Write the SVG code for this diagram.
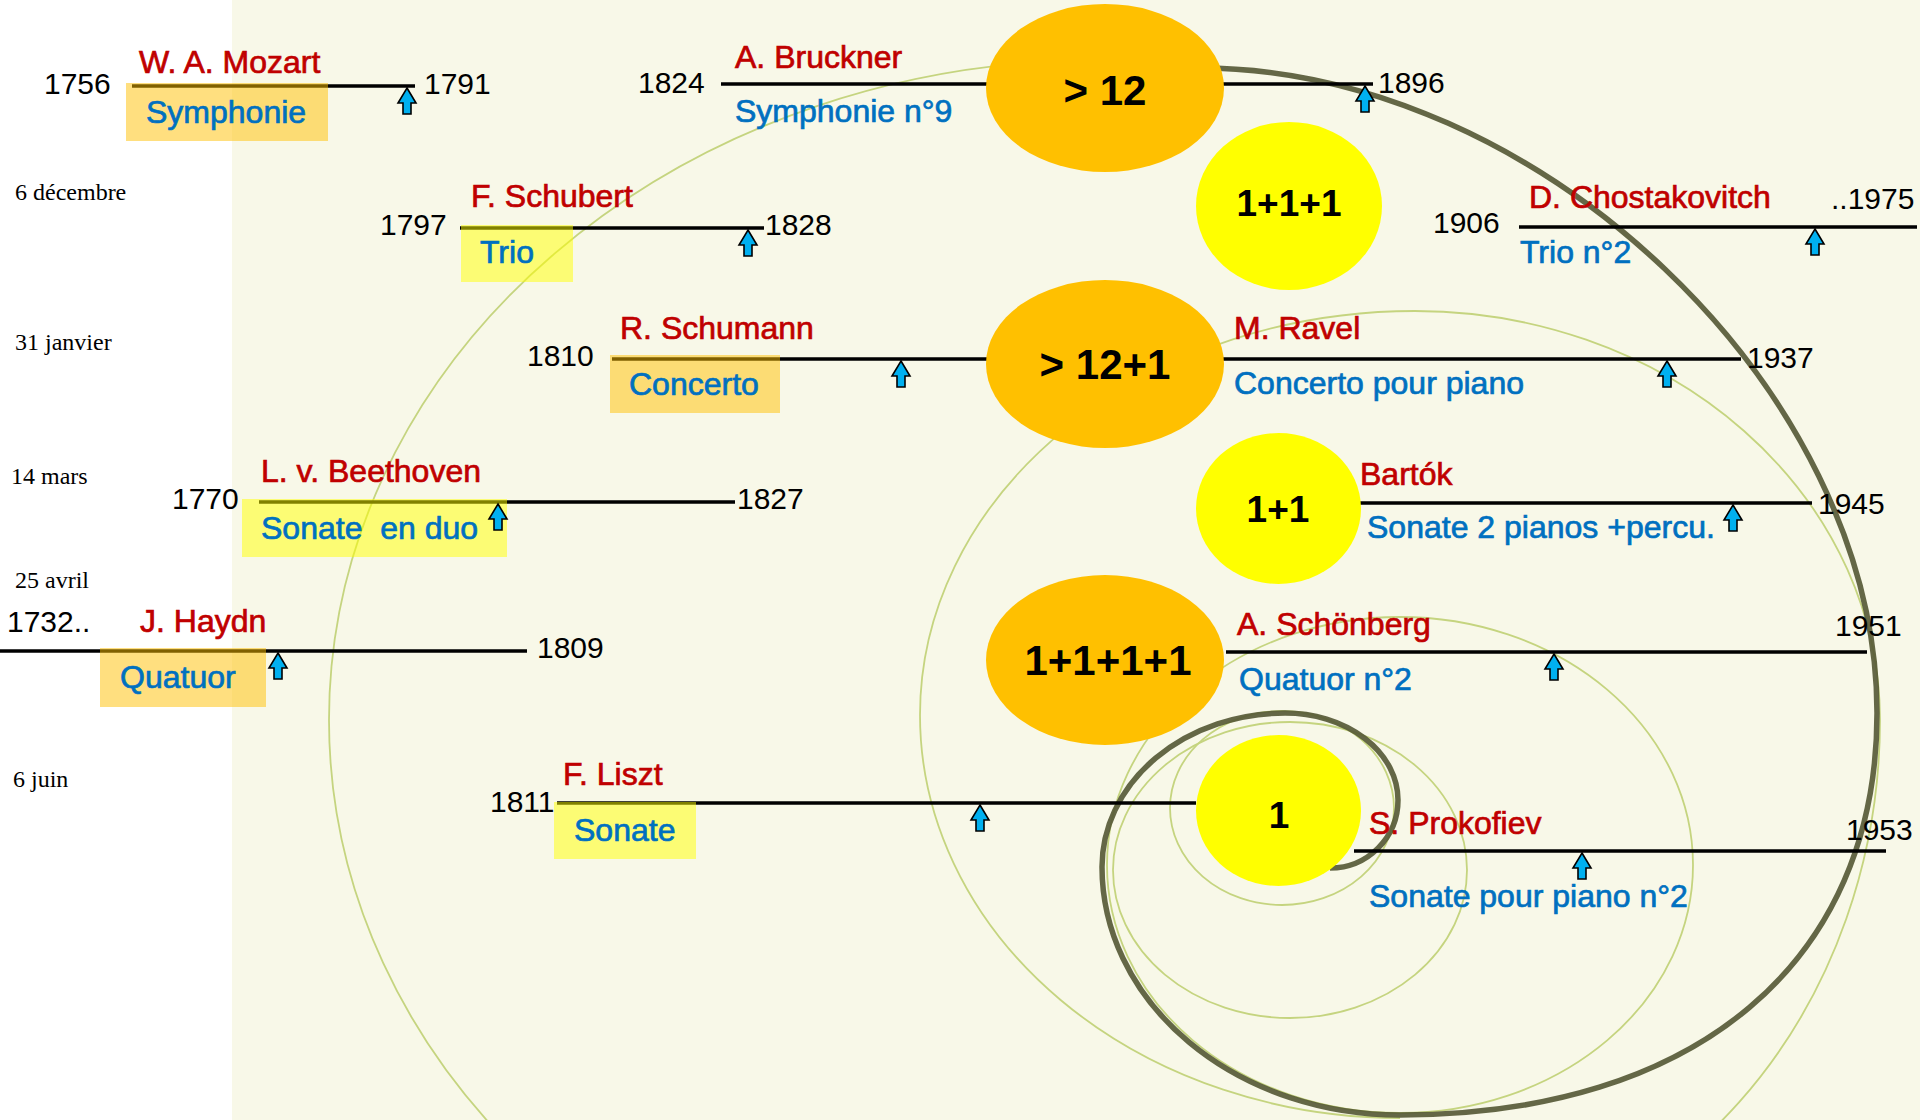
<svg xmlns="http://www.w3.org/2000/svg" width="1920" height="1120" viewBox="0 0 1920 1120">
<style>
.yr{font-family:"Liberation Sans",Arial,sans-serif;font-size:30px;fill:#000}
.nm{font-family:"Liberation Sans",Arial,sans-serif;font-size:32px;fill:#C00000;stroke:#C00000;stroke-width:0.7}
.wk{font-family:"Liberation Sans",Arial,sans-serif;font-size:32px;fill:#0070C0;stroke:#0070C0;stroke-width:0.7}
.dt{font-family:"Liberation Serif","Times New Roman",serif;font-size:24px;fill:#000}
.big{font-family:"Liberation Sans",Arial,sans-serif;font-size:42px;font-weight:bold;fill:#000;text-anchor:middle}
.sm{font-family:"Liberation Sans",Arial,sans-serif;font-size:37px;font-weight:bold;fill:#000;text-anchor:middle}
.tl{stroke:#000;stroke-width:3.5;fill:none}
.bo{fill:#FFC000;opacity:0.5}
.by{fill:#FFFF00;opacity:0.5}
.eo{fill:#FFC000}
.ey{fill:#FFFF00}
.lt{fill:none;stroke:#c5d47f;stroke-width:1.8}
.dk{fill:none;stroke:#575a37;stroke-width:5.5;opacity:0.92}
</style>
<defs>
<path id="arr" d="M0,0 L9,15 L4,15 L4,26 L-4,26 L-4,15 L-9,15 Z" fill="#00B0F0" stroke="#000" stroke-width="1.6" stroke-linejoin="miter"/>
</defs>
<rect x="0" y="0" width="1920" height="1120" fill="#ffffff"/>
<rect x="232" y="0" width="1688" height="1120" fill="#f8f8e8"/>

<g id="dates">
<text class="dt" x="15" y="200">6 décembre</text>
<text class="dt" x="15" y="350">31 janvier</text>
<text class="dt" x="11" y="484">14 mars</text>
<text class="dt" x="15" y="588">25 avril</text>
<text class="dt" x="13" y="787">6 juin</text>
</g>

<g id="connectors">
<path class="lt" d="M1100,60 A771,660 0 0 0 329,720 A771,660 0 0 0 1100,1380"/>
<path class="lt" d="M1400,1118 A480,403 0 0 1 920,715 A495,404 0 0 1 1415,311 A465,409 0 0 1 1880,720 A480,540 0 0 1 1400,1260"/>
<ellipse class="lt" cx="1400" cy="865" rx="293" ry="248"/>
<ellipse class="lt" cx="1290" cy="870" rx="177" ry="148"/>
<ellipse class="lt" cx="1282" cy="808" rx="112" ry="97"/>
<path class="dk" d="M1330,868 A68,68 0 0 0 1398,800 A113,87 0 0 0 1285,713 A183,154 0 0 0 1102,867 A298,248 0 0 0 1400,1115 C1696,1115 1877,962 1877,713 C1877,390 1538,68 1200,68"/>
</g>

<g id="mozart">
<line class="tl" x1="132" y1="86" x2="415" y2="86"/>
<rect class="bo" x="126" y="83" width="202" height="58"/>
<use href="#arr" x="407" y="88"/>
<text class="yr" x="44" y="94">1756</text>
<text class="nm" x="139" y="73">W. A. Mozart</text>
<text class="wk" x="146" y="123">Symphonie</text>
<text class="yr" x="424" y="94">1791</text>
</g>

<g id="bruckner">
<line class="tl" x1="721" y1="84" x2="1373" y2="84"/>
<use href="#arr" x="1365" y="86"/>
<text class="yr" x="638" y="93">1824</text>
<text class="nm" x="735" y="68">A. Bruckner</text>
<text class="wk" x="735" y="122">Symphonie n°9</text>
<text class="yr" x="1378" y="93">1896</text>
</g>

<g id="schubert">
<line class="tl" x1="460" y1="228" x2="764" y2="228"/>
<rect class="by" x="461" y="225" width="112" height="57"/>
<use href="#arr" x="748" y="230"/>
<text class="yr" x="380" y="235">1797</text>
<text class="nm" x="471" y="207">F. Schubert</text>
<text class="wk" x="480" y="263">Trio</text>
<text class="yr" x="765" y="235">1828</text>
</g>

<g id="chostakovitch">
<line class="tl" x1="1519" y1="227" x2="1917" y2="227"/>
<use href="#arr" x="1815" y="229"/>
<text class="yr" x="1433" y="233">1906</text>
<text class="nm" x="1529" y="208">D. Chostakovitch</text>
<text class="yr" x="1831" y="209">..1975</text>
<text class="wk" x="1520" y="263">Trio n°2</text>
</g>

<g id="schumann-ravel">
<line class="tl" x1="612" y1="359" x2="1741" y2="359"/>
<rect class="bo" x="610" y="355" width="170" height="58"/>
<use href="#arr" x="901" y="361"/>
<use href="#arr" x="1667" y="361"/>
<text class="yr" x="527" y="366">1810</text>
<text class="nm" x="620" y="339">R. Schumann</text>
<text class="wk" x="629" y="395">Concerto</text>
<text class="nm" x="1234" y="339">M. Ravel</text>
<text class="wk" x="1234" y="394">Concerto pour piano</text>
<text class="yr" x="1747" y="368">1937</text>
</g>

<g id="beethoven">
<line class="tl" x1="259" y1="502" x2="735" y2="502"/>
<rect class="by" x="242" y="499" width="265" height="58"/>
<use href="#arr" x="498" y="504"/>
<text class="yr" x="172" y="509">1770</text>
<text class="nm" x="261" y="482">L. v. Beethoven</text>
<text class="wk" x="261" y="539" xml:space="preserve">Sonate  en duo</text>
<text class="yr" x="737" y="509">1827</text>
</g>

<g id="bartok">
<line class="tl" x1="1360" y1="503" x2="1812" y2="503"/>
<use href="#arr" x="1733" y="505"/>
<text class="nm" x="1360" y="485">Bartók</text>
<text class="wk" x="1367" y="538">Sonate 2 pianos +percu.</text>
<text class="yr" x="1818" y="514">1945</text>
</g>

<g id="haydn">
<line class="tl" x1="0" y1="651" x2="527" y2="651"/>
<rect class="bo" x="100" y="648" width="166" height="59"/>
<use href="#arr" x="278" y="653"/>
<text class="yr" x="7" y="632">1732..</text>
<text class="nm" x="140" y="632">J. Haydn</text>
<text class="wk" x="120" y="688">Quatuor</text>
<text class="yr" x="537" y="658">1809</text>
</g>

<g id="schonberg">
<line class="tl" x1="1226" y1="652" x2="1867" y2="652"/>
<use href="#arr" x="1554" y="654"/>
<text class="nm" x="1237" y="635">A. Schönberg</text>
<text class="wk" x="1239" y="690">Quatuor n°2</text>
<text class="yr" x="1835" y="636">1951</text>
</g>

<g id="liszt">
<line class="tl" x1="557" y1="803" x2="1196" y2="803"/>
<rect class="by" x="554" y="802" width="142" height="57"/>
<use href="#arr" x="980" y="805"/>
<text class="yr" x="490" y="812">1811</text>
<text class="nm" x="563" y="785">F. Liszt</text>
<text class="wk" x="574" y="841">Sonate</text>
</g>

<g id="prokofiev">
<line class="tl" x1="1354" y1="851" x2="1886" y2="851"/>
<use href="#arr" x="1582" y="853"/>
<text class="nm" x="1369" y="834">S. Prokofiev</text>
<text class="wk" x="1369" y="907">Sonate pour piano n°2</text>
<text class="yr" x="1846" y="840">1953</text>
</g>

<g id="n12">
<ellipse class="eo" cx="1105" cy="88" rx="119" ry="84"/>
<text class="big" x="1105" y="105">&gt; 12</text>
</g>
<g id="n111">
<ellipse class="ey" cx="1289" cy="206" rx="93" ry="84"/>
<text class="sm" x="1289" y="216">1+1+1</text>
</g>
<g id="n12p1">
<ellipse class="eo" cx="1105" cy="364" rx="119" ry="84"/>
<text class="big" x="1105" y="379">&gt; 12+1</text>
</g>
<g id="n11">
<ellipse class="ey" cx="1278.5" cy="508.5" rx="82.5" ry="75.5"/>
<text class="sm" x="1278" y="522">1+1</text>
</g>
<g id="n1111">
<ellipse class="eo" cx="1105" cy="660" rx="119" ry="85"/>
<text class="big" x="1108" y="675">1+1+1+1</text>
</g>
<g id="n1">
<ellipse class="ey" cx="1278.5" cy="810.5" rx="82.5" ry="75.5"/>
<text class="sm" x="1279" y="828">1</text>
</g>
</svg>
